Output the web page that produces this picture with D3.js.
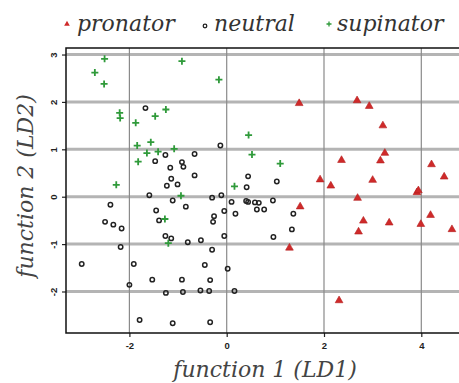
<!DOCTYPE html>
<html><head><meta charset="utf-8">
<script src="https://cdn.jsdelivr.net/npm/d3@7/dist/d3.min.js"></script>
<style>body{margin:0;background:#fff}svg{display:block}
.serif{font-family:"DejaVu Serif";font-style:italic}
</style>
</head><body>
<svg id="c" width="459" height="383"></svg>
<script>
const groups = ["pronator", "neutral", "supinator"];
const colors = {pronator: "#cf2a2a", neutral: "#222222", supinator: "#2f9a3a"};
const xTicks = [-2, 0, 2, 4];
const yTicks = [-2, -1, 0, 1, 2, 3];

const pronatorX = [1.49,2.68,2.93,3.21,3.25,3.16,2.36,4.21,4.47,1.92,2.14,3.00,3.91,3.94,2.69,1.51,2.81,3.34,3.99,4.19,4.63,2.71,2.31,1.29];
const pronatorY = [1.97,2.03,1.91,1.50,0.92,0.76,0.77,0.68,0.42,0.36,0.23,0.35,0.09,0.13,-0.03,-0.21,-0.51,-0.55,-0.58,-0.39,-0.69,-0.74,-2.19,-1.08];

const neutralX = [-1.67,-0.13,-1.26,-1.47,-0.66,-0.92,-0.89,-1.16,-0.66,-1.14,-1.23,-1.01,0.44,0.41,1.03,-1.59,-1.11,-2.39,-0.84,-0.30,-0.11,0.10,0.40,0.44,0.58,0.66,0.95,-1.45,-0.05,0.18,0.62,0.77,1.37,-0.26,-0.28,-1.39,-2.50,-2.33,-2.16,1.34,-1.26,-1.14,-0.80,-0.53,-0.05,0.96,-2.18,-0.30,-2.98,-1.91,-0.45,0.02,-1.53,-0.92,-0.34,-2.00,-1.25,-0.90,-0.54,-0.36,0.16,-1.79,-1.11,-0.34];
const neutralY = [1.87,1.08,0.88,0.75,0.90,0.73,0.63,0.61,0.45,0.38,0.23,0.26,0.43,0.20,0.32,0.03,-0.08,-0.17,-0.21,-0.02,0.03,-0.11,-0.09,-0.11,-0.12,-0.13,-0.08,-0.29,-0.30,-0.36,-0.27,-0.27,-0.36,-0.41,-0.53,-0.50,-0.53,-0.59,-0.67,-0.69,-0.83,-0.88,-0.96,-0.92,-0.83,-0.85,-1.06,-1.12,-1.42,-1.42,-1.44,-1.52,-1.75,-1.75,-1.76,-1.86,-2.03,-2.01,-1.98,-1.99,-1.99,-2.60,-2.67,-2.65];

const supinatorX = [-2.51,-2.71,-2.52,-0.92,-2.20,-2.19,-1.25,-1.47,-1.87,-1.56,-1.84,-1.41,-1.64,-1.08,-1.82,-2.27,-0.94,-1.27,-1.20,-0.16,0.45,0.52,1.10,0.16];
const supinatorY = [2.91,2.62,2.38,2.86,1.77,1.66,1.84,1.70,1.56,1.15,1.08,0.95,0.92,1.01,0.74,0.25,0.02,-0.47,-0.98,2.47,1.30,0.89,0.70,0.22];

const svg = d3.select("#c");
const x = d3.scaleLinear().domain([-3.3, 5]).range([66.15, 469.95]);
const y = d3.scaleLinear().domain([-2.88, 3.14]).range([333.2, 47.9]);
const L = 66, R = 470, T = 48, B = 333;

svg.append("g").selectAll("line").data(yTicks).join("line")
  .attr("x1", L).attr("x2", R).attr("y1", d => y(d)).attr("y2", d => y(d))
  .attr("stroke", "#b4b4b4").attr("stroke-width", 3);
svg.append("g").selectAll("line").data(xTicks).join("line")
  .attr("x1", d => x(d)).attr("x2", d => x(d)).attr("y1", T).attr("y2", B)
  .attr("stroke", "#8a8a8a").attr("stroke-width", 1.2);

const xAxis = d3.axisBottom(x).tickValues(xTicks).tickSize(4);
const gx = svg.append("g").attr("transform", `translate(0,${B})`).call(xAxis);
gx.select(".domain").remove();
gx.selectAll("line").attr("stroke", "#222").attr("stroke-width", 1.2);
gx.selectAll("text").attr("font-family", "Liberation Sans, Arial, sans-serif").attr("font-weight", "bold")
  .attr("font-size", 9.5).attr("fill", "#222").attr("dy", "0.9em").text(d => d < 0 ? "-" + Math.abs(d) : d);

const yAxis = d3.axisLeft(y).tickValues(yTicks).tickSize(4);
const gy = svg.append("g").attr("transform", `translate(${L},0)`).call(yAxis);
gy.select(".domain").remove();
gy.selectAll("line").attr("stroke", "#222").attr("stroke-width", 1.2);
gy.selectAll("text").attr("font-family", "Liberation Sans, Arial, sans-serif").attr("font-weight", "bold")
  .attr("font-size", 9.5).attr("fill", "#222")
  .attr("x", 0).attr("dy", 0)
  .attr("text-anchor", "middle")
  .attr("transform", "translate(-13,0) rotate(-90)")
  .attr("dominant-baseline", "central")
  .text(d => d < 0 ? "-" + Math.abs(d) : d);

svg.append("path").attr("d", `M${R},${T}H${L}V${B}H${R}`).attr("fill", "none")
  .attr("stroke", "#111").attr("stroke-width", 1.5);

const tri = d3.symbol().type(d3.symbolTriangle);
const neutral = neutralX.map((v, i) => [v, neutralY[i]]);
svg.append("g").selectAll("circle").data(neutral).join("circle")
  .attr("cx", d => x(d[0])).attr("cy", d => y(d[1])).attr("r", 2.2)
  .attr("fill", "none").attr("stroke", colors.neutral).attr("stroke-width", 1.5);

const sup = supinatorX.map((v, i) => [v, supinatorY[i]]);
svg.append("g").selectAll("path").data(sup).join("path")
  .attr("transform", d => `translate(${x(d[0])},${y(d[1])})`)
  .attr("d", "M-3.5,0H3.5M0,-3.5V3.5").attr("stroke", colors.supinator).attr("stroke-width", 1.8);

const pro = pronatorX.map((v, i) => [v, pronatorY[i]]);
svg.append("g").selectAll("path").data(pro).join("path")
  .attr("transform", d => `translate(${x(d[0])},${y(d[1])})`)
  .attr("d", tri.size(26)()).attr("fill", colors.pronator).attr("stroke", "#b51f1f").attr("stroke-width", 0.6);

const leg = [
  {g: "pronator", mx: 67, my: 24, tx: 77},
  {g: "neutral", mx: 205, my: 26, tx: 214},
  {g: "supinator", mx: 329, my: 24, tx: 337}
];
leg.forEach(l => {
  if (l.g === "pronator") {
    svg.append("path").attr("transform", `translate(${l.mx},${l.my})`).attr("d", tri.size(14)()).attr("fill", colors.pronator);
  } else if (l.g === "neutral") {
    svg.append("circle").attr("cx", l.mx).attr("cy", l.my).attr("r", 1.8).attr("fill", "none").attr("stroke", colors.neutral).attr("stroke-width", 1.3);
  } else {
    svg.append("path").attr("transform", `translate(${l.mx},${l.my})`).attr("d", "M-2.5,0H2.5M0,-2.5V2.5").attr("stroke", colors.supinator).attr("stroke-width", 1.3);
  }
  svg.append("text").attr("class", "serif").attr("x", l.tx).attr("y", 30.5)
    .attr("font-size", 22).attr("fill", "#333").text(l.g);
});

svg.append("text").attr("class", "serif").attr("x", 265).attr("y", 377).attr("text-anchor", "middle")
  .attr("font-size", 22).attr("fill", "#444")
  .text("function 1 (LD1)");
svg.append("text").attr("class", "serif").attr("transform", "translate(33,186) rotate(-90)").attr("text-anchor", "middle")
  .attr("font-size", 22).attr("fill", "#444")
  .text("function 2 (LD2)");
</script>
</body></html>
